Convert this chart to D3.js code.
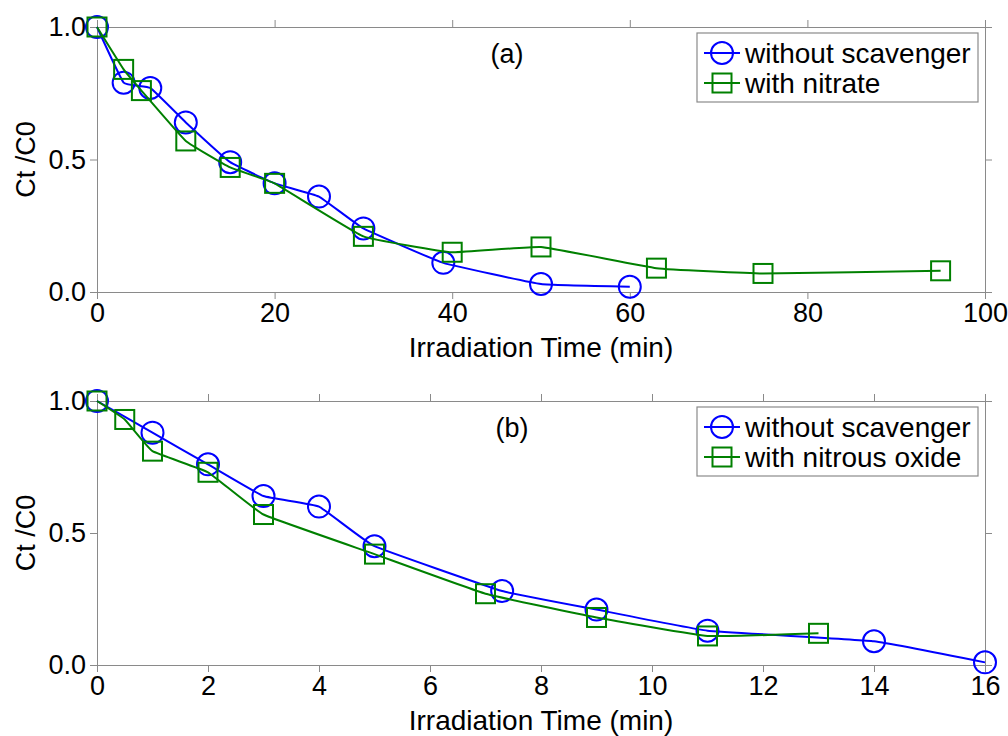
<!DOCTYPE html>
<html>
<head>
<meta charset="utf-8">
<script src="https://cdn.jsdelivr.net/npm/d3@7"></script>
<style>
  body { margin: 0; background: #fff; }
  svg { font-family: "Liberation Sans", Arial, sans-serif; }
</style>
</head>
<body>
<svg width="1008" height="736"></svg>
<script>
// panel (a)
const timeA1 = [0, 3, 6, 10, 15, 20, 25, 30, 39, 50, 60]
const ratioA1 = [1.0, 0.79, 0.77, 0.64, 0.49, 0.41, 0.36, 0.24, 0.11, 0.03, 0.02]
const timeA2 = [0, 3, 5, 10, 15, 20, 30, 40, 50, 63, 75, 95]
const ratioA2 = [1.0, 0.84, 0.76, 0.57, 0.47, 0.41, 0.21, 0.15, 0.17, 0.09, 0.07, 0.08]
const ticksA = [0, 20, 40, 60, 80, 100]

// panel (b)
const timeB1 = [0, 1, 2, 3, 4, 5, 7.3, 9, 11, 14, 16]
const ratioB1 = [1.0, 0.88, 0.76, 0.64, 0.60, 0.45, 0.28, 0.21, 0.13, 0.09, 0.01]
const timeB2 = [0, 0.5, 1, 2, 3, 5, 7, 9, 11, 13]
const ratioB2 = [1.0, 0.93, 0.81, 0.73, 0.57, 0.42, 0.27, 0.18, 0.11, 0.12]
const ticksB = [0, 2, 4, 6, 8, 10, 12, 14, 16]

const yTicks = [0, 0.5, 1.0]

const BLUE = "#0000ff"
const GREEN = "#008000"
const AXIS = "#8a8a8a"

const svg = d3.select("svg")

function panel(opts) {
    const x = d3.scaleLinear().domain(opts.xDomain).range([97, 985])
    const y = d3.scaleLinear().domain([0, 1]).range([opts.bottom, opts.top])
    const g = svg.append("g")

    const styleAxis = sel => {
        sel.selectAll("path, line").attr("stroke", AXIS).attr("stroke-width", 1)
        sel.selectAll("text").attr("fill", "#000").style("font-size", "27px")
            .style("font-family", "'Liberation Sans', Arial, sans-serif")
    }

    g.append("g").attr("transform", `translate(0,${opts.bottom})`)
        .call(d3.axisBottom(x).tickValues(opts.xTicks).tickSize(7).tickSizeOuter(0).tickPadding(4).tickFormat(d3.format("d")))
        .call(styleAxis)
    g.append("g").attr("transform", `translate(0,${opts.top})`)
        .call(d3.axisTop(x).tickValues(opts.xTicks).tickSize(7).tickSizeOuter(0).tickFormat(""))
        .call(styleAxis)
    g.append("g").attr("transform", "translate(97,0)")
        .call(d3.axisLeft(y).tickValues(yTicks).tickSize(7).tickSizeOuter(0).tickPadding(4).tickFormat(d3.format(".1f")))
        .call(styleAxis)
    g.append("g").attr("transform", "translate(985,0)")
        .call(d3.axisRight(y).tickValues(yTicks).tickSize(7).tickSizeOuter(0).tickFormat(""))
        .call(styleAxis)

    // axis titles
    g.append("text")
        .attr("x", 541)
        .attr("y", opts.bottom + 65)
        .attr("text-anchor", "middle")
        .style("font-size", "28px")
        .text("Irradiation Time (min)")
    g.append("text")
        .attr("transform", `translate(35,${(opts.top + opts.bottom) / 2}) rotate(-90)`)
        .attr("text-anchor", "middle")
        .style("font-size", "27px")
        .text("Ct /C0")

    // panel letter
    g.append("text")
        .attr("x", opts.letterX)
        .attr("y", opts.top + 36)
        .attr("text-anchor", "middle")
        .style("font-size", "27px")
        .text(opts.letter)

    const line = d3.line()
        .x(d => x(d[0]))
        .y(d => y(d[1]))
        .curve(d3.curveCardinal.tension(0.7))

    opts.series.forEach(s => {
        const pts = s.xs.map((v, i) => [v, s.ys[i]])
        g.append("path")
            .datum(pts)
            .attr("d", line)
            .attr("fill", "none")
            .attr("stroke", s.color)
            .attr("stroke-width", 2)
        drawMarkers(g, pts.map(p => [x(p[0]), y(p[1])]), s)
    })

    // legend
    const lg = g.append("g").attr("transform", `translate(697,${opts.top + 6})`)
    lg.append("rect")
        .attr("width", 281)
        .attr("height", 69)
        .attr("fill", "#fff")
        .attr("stroke", AXIS)
        .attr("stroke-width", 1.2)
    opts.series.forEach((s, i) => {
        const cy = 20 + i * 30
        lg.append("line")
            .attr("x1", 7).attr("x2", 43)
            .attr("y1", cy).attr("y2", cy)
            .attr("stroke", s.color)
            .attr("stroke-width", 2)
        drawMarkers(lg, [[25, cy]], s)
        lg.append("text")
            .attr("x", 48)
            .attr("y", cy)
            .attr("dy", "0.35em")
            .style("font-size", "28px")
            .text(s.name)
    })
}

function drawMarkers(g, pts, s) {
    if (s.shape === "circle") {
        g.selectAll(null).data(pts).enter().append("circle")
            .attr("cx", d => d[0]).attr("cy", d => d[1])
            .attr("r", 11)
            .attr("fill", "none")
            .attr("stroke", s.color)
            .attr("stroke-width", 2)
    } else {
        g.selectAll(null).data(pts).enter().append("rect")
            .attr("x", d => d[0] - 9.5).attr("y", d => d[1] - 9.5)
            .attr("width", 19).attr("height", 19)
            .attr("fill", "none")
            .attr("stroke", s.color)
            .attr("stroke-width", 2)
    }
}

panel({
    xDomain: [0, 100], xTicks: ticksA, top: 27, bottom: 292,
    letter: "(a)", letterX: 507,
    series: [
        { name: "without scavenger", xs: timeA1, ys: ratioA1, color: BLUE, shape: "circle" },
        { name: "with nitrate", xs: timeA2, ys: ratioA2, color: GREEN, shape: "square" }
    ]
})

panel({
    xDomain: [0, 16], xTicks: ticksB, top: 401, bottom: 665,
    letter: "(b)", letterX: 512,
    series: [
        { name: "without scavenger", xs: timeB1, ys: ratioB1, color: BLUE, shape: "circle" },
        { name: "with nitrous oxide", xs: timeB2, ys: ratioB2, color: GREEN, shape: "square" }
    ]
})
</script>
</body>
</html>
